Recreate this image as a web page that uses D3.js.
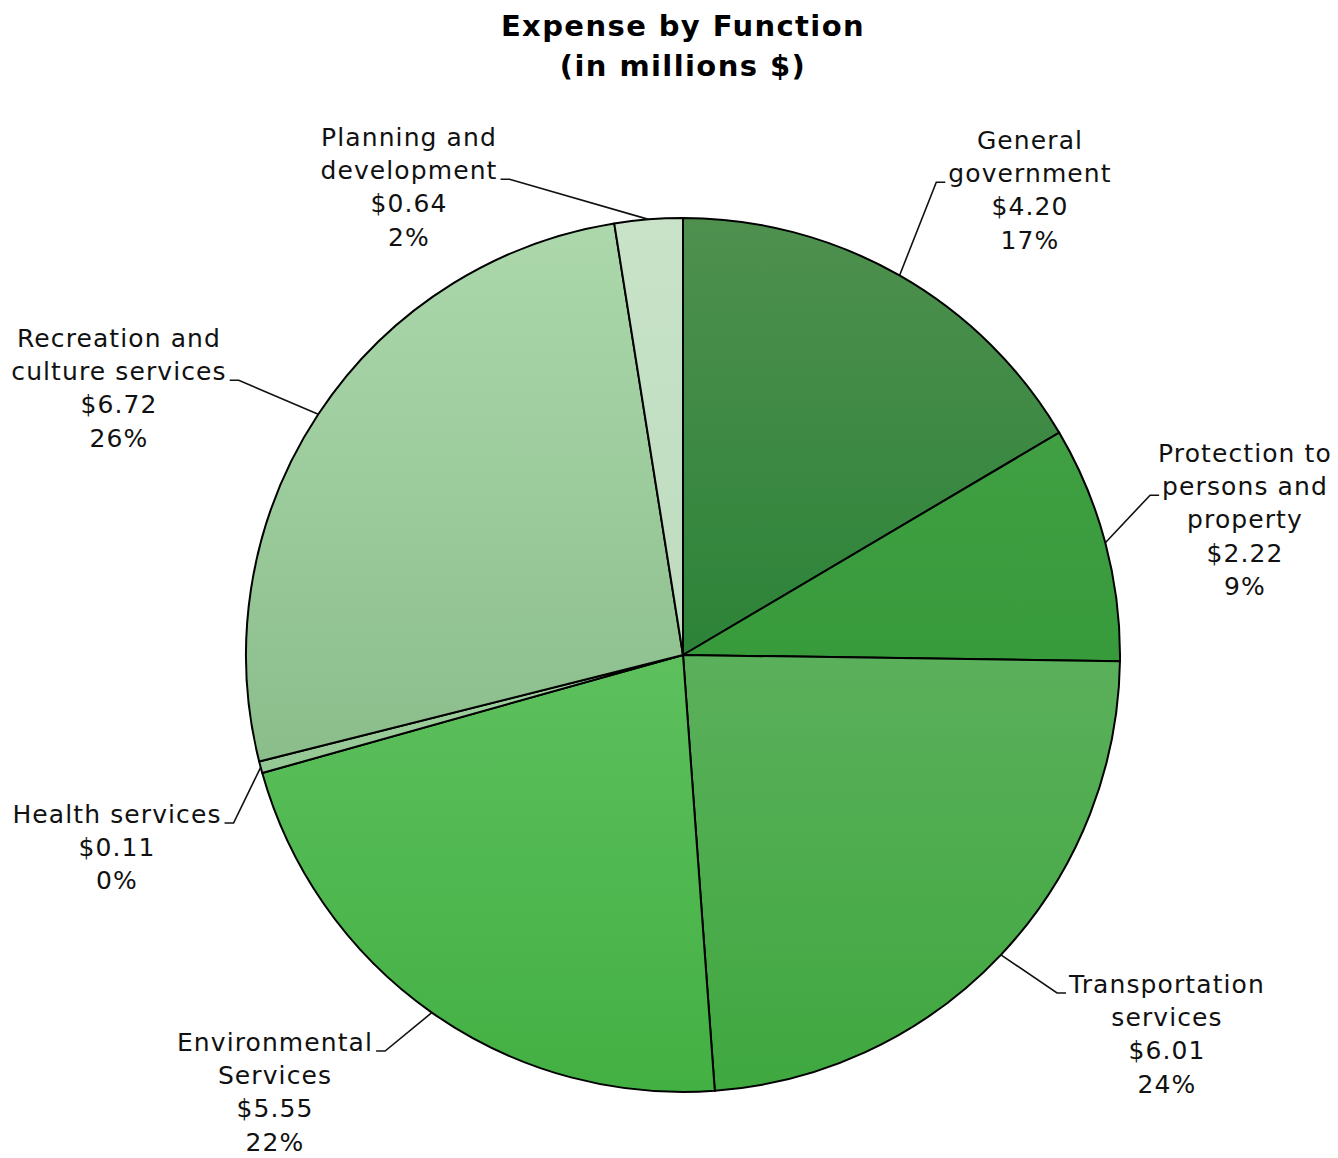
<!DOCTYPE html>
<html>
<head>
<meta charset="utf-8">
<script src="https://cdn.jsdelivr.net/npm/d3@7"></script>
<style>
  html, body { margin: 0; padding: 0; background: #ffffff; }
  text { font-family: "DejaVu Sans", Verdana, sans-serif; fill: #111111; }
</style>
</head>
<body>
<svg id="chart" width="1338" height="1158"></svg>
<script>
// ---- data ----
const titleLines = ["Expense by Function", "(in millions $)"];
const categories = [
  "General government",
  "Protection to persons and property",
  "Transportation services",
  "Environmental Services",
  "Health services",
  "Recreation and culture services",
  "Planning and development"
];
const nameLines = [
  ["General", "government"],
  ["Protection to", "persons and", "property"],
  ["Transportation", "services"],
  ["Environmental", "Services"],
  ["Health services"],
  ["Recreation and", "culture services"],
  ["Planning and", "development"]
];
const values = [4.20, 2.22, 6.01, 5.55, 0.11, 6.72, 0.64];
const percentLabels = ["17%", "9%", "24%", "22%", "0%", "26%", "2%"];

// ---- styles / layout ----
const colorsTop    = ["#4f904f", "#40a043", "#5bb05b", "#5dc05d", "#a3d2a3", "#acd8ac", "#c8e3c8"];
const colorsBottom = ["#2c8338", "#379a3b", "#3fa83f", "#43b043", "#93c793", "#8bbd8b", "#bfdcbf"];
// label block: centre x, first baseline, line attached to leader, side of leader
const labelLayout = [
  { cx: 1030, y0: 149, attach: 1, side: "right" },
  { cx: 1245, y0: 462, attach: 1, side: "right" },
  { cx: 1167, y0: 993, attach: 0, side: "right" },
  { cx: 275,  y0: 1051, attach: 0, side: "left" },
  { cx: 117,  y0: 823, attach: 0, side: "left" },
  { cx: 119,  y0: 347, attach: 1, side: "left" },
  { cx: 409,  y0: 146, attach: 1, side: "left" }
];
const cx = 683, cy = 655, R = 437;
const lineH = 33.2;

const svg = d3.select("#chart");

// title
svg.append("g").selectAll("text").data(titleLines).join("text")
  .attr("x", cx).attr("y", (d, i) => 36 + i * 40)
  .attr("text-anchor", "middle")
  .style("font-size", "29px").style("font-weight", "bold")
  .style("letter-spacing", "1.4px").style("fill", "#000")
  .text(d => d);

// gradients
const defs = svg.append("defs");
categories.forEach((c, i) => {
  const g = defs.append("linearGradient").attr("id", "grad" + i)
    .attr("x1", 0).attr("y1", 0).attr("x2", 0).attr("y2", 1);
  g.append("stop").attr("offset", "0%").attr("stop-color", colorsTop[i]);
  g.append("stop").attr("offset", "100%").attr("stop-color", colorsBottom[i]);
});

const pie = d3.pie().sort(null).value(d => d)(values);
const arc = d3.arc().innerRadius(0).outerRadius(R);

const gPie = svg.append("g").attr("transform", `translate(${cx},${cy})`);
gPie.selectAll("path").data(pie).join("path")
  .attr("d", arc)
  .attr("fill", (d, i) => `url(#grad${i})`)
  .attr("stroke", "#000").attr("stroke-width", 2)
  .attr("stroke-linejoin", "round");

// labels
const gLab = svg.append("g");
pie.forEach((p, i) => {
  const L = labelLayout[i];
  const lines = nameLines[i].concat(["$" + values[i].toFixed(2), percentLabels[i]]);
  const t = gLab.append("g");
  const texts = t.selectAll("text").data(lines).join("text")
    .attr("x", L.cx).attr("y", (d, j) => L.y0 + j * lineH)
    .attr("text-anchor", "middle")
    .style("font-size", "25px").style("letter-spacing", "1.1px")
    .text(d => d);
  const node = texts.nodes()[L.attach];
  const w = node.getComputedTextLength();
  const by = L.y0 + L.attach * lineH;
  const mid = (p.startAngle + p.endAngle) / 2;
  const sx = cx + R * Math.sin(mid), sy = cy - R * Math.cos(mid);
  let ex, elbx;
  if (L.side === "right") { ex = L.cx - w / 2 - 3; elbx = ex - 9; }
  else { ex = L.cx + w / 2 + 3; elbx = ex + 9; }
  gLab.append("path")
    .attr("d", d3.line()([[sx, sy], [elbx, by], [ex, by]]))
    .attr("fill", "none").attr("stroke", "#111").attr("stroke-width", 1.6);
});
</script>
</body>
</html>
